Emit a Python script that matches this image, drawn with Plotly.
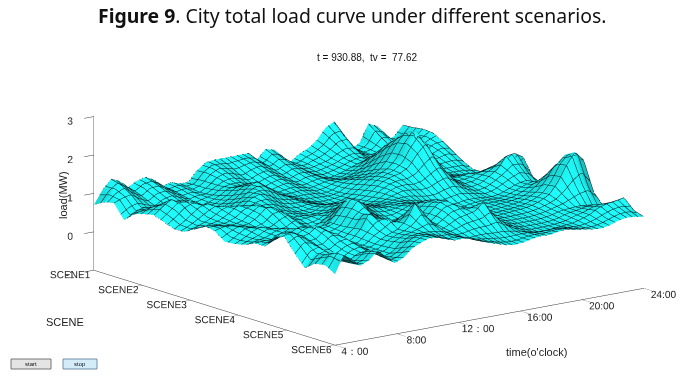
import plotly.graph_objects as go

scene_pos = [1 + 5 * i / 24 for i in range(25)]
time_pos = [4 + 20 * j / 36 for j in range(37)]
scene_ticks = [1, 2, 3, 4, 5, 6]
scene_labels = ["SCENE1", "SCENE2", "SCENE3", "SCENE4", "SCENE5", "SCENE6"]
time_ticks = [4, 8, 12, 16, 20, 24]
time_labels = ["4：00", "8:00", "12：00", "16:00", "20:00", "24:00"]
load_ticks = [-1, 0, 1, 2, 3]

load = [
[.70,1.05,1.29,1.20,1.00,1.12,1.18,1.07,.86,.92,.85,.84,1.10,1.27,1.30,1.30,1.30,1.31,1.31,1.09,1.33,1.28,.95,.90,1.05,1.15,1.32,1.60,1.72,1.20,.92,1.05,1.50,1.40,.95,1.05,1.30],
[.85,1.10,1.22,1.05,.92,1.08,1.10,.96,.84,.88,.82,.88,1.12,1.25,1.22,1.18,1.22,1.26,1.20,1.05,1.22,1.16,.94,.90,1.00,1.08,1.22,1.42,1.45,1.10,.95,1.02,1.30,1.25,.98,1.10,1.32],
[.91,1.00,1.05,.90,.80,.95,.98,.88,.78,.82,.78,.90,1.08,1.16,1.10,1.02,1.12,1.18,1.08,.98,1.10,1.06,.90,.88,.94,1.00,1.12,1.22,1.20,1.00,.94,.98,1.12,1.10,1.00,1.18,1.36],
[.55,.72,.80,.74,.70,.82,.88,.80,.72,.78,.80,.94,1.02,1.05,.98,.92,1.02,1.08,.98,.90,1.00,.98,.86,.84,.90,.96,1.05,1.10,1.05,.94,.92,.96,1.02,1.02,1.04,1.22,1.34],
[.78,.85,.88,.80,.72,.74,.78,.76,.70,.76,.86,1.00,1.02,.96,.90,.86,.94,1.00,.92,.84,.92,.94,.84,.80,.86,.94,1.02,1.08,1.02,.90,.86,.90,.96,1.00,1.05,1.18,1.20],
[.87,1.00,1.05,.95,.82,.72,.70,.72,.72,.80,.94,1.10,1.16,1.02,.88,.82,.88,.92,.86,.80,.86,.90,.86,.84,.92,1.02,1.20,1.35,1.20,.95,.84,.88,.92,.96,1.00,1.08,1.02],
[.92,1.10,1.25,1.12,.95,.78,.70,.74,.80,.90,1.05,1.22,1.30,1.12,.94,.84,.84,.86,.82,.78,.82,.90,.94,.96,1.05,1.20,1.45,1.65,1.40,1.02,.85,.84,.86,.88,.90,.92,.85],
[.82,1.00,1.20,1.25,1.10,.90,.80,.82,.90,1.02,1.18,1.28,1.22,1.08,.95,.85,.80,.80,.78,.76,.80,.92,1.02,1.06,1.18,1.40,1.70,1.90,1.55,1.10,.86,.80,.80,.80,.80,.78,.72],
[.72,.85,1.02,1.18,1.22,1.05,.92,.90,1.00,1.15,1.22,1.15,1.02,.95,.92,.84,.78,.74,.74,.76,.82,.96,1.10,1.18,1.30,1.55,1.90,2.15,1.70,1.15,.90,.84,.82,.76,.74,.72,.72],
[.73,.82,.92,1.05,1.20,1.22,1.08,1.00,1.05,1.12,1.10,1.00,.90,.88,.90,.86,.78,.72,.72,.78,.88,1.02,1.18,1.28,1.38,1.55,1.95,2.25,1.75,1.20,.95,.90,.90,.85,.82,.88,.92],
[.88,.90,.94,1.00,1.12,1.28,1.25,1.12,1.08,1.05,.98,.90,.85,.84,.90,.92,.85,.78,.76,.82,.92,1.08,1.22,1.30,1.35,1.48,1.78,2.00,1.60,1.15,.98,.98,1.02,1.00,1.05,1.05,.94],
[1.05,1.02,.98,.98,1.05,1.22,1.35,1.22,1.05,.96,.90,.88,.84,.86,.96,1.02,.96,.88,.82,.86,.96,1.10,1.20,1.24,1.22,1.28,1.45,1.60,1.35,1.05,.96,.98,1.08,1.15,1.25,1.20,.92],
[1.00,1.06,1.05,1.00,1.02,1.15,1.35,1.32,1.10,.95,.88,.90,.92,.95,1.08,1.15,1.08,.98,.92,.94,1.00,1.08,1.14,1.12,1.08,1.10,1.20,1.28,1.15,.98,.92,.96,1.10,1.25,1.55,1.58,1.44],
[.80,.95,1.10,1.05,.98,1.02,1.20,1.28,1.00,.86,.80,.84,.98,1.12,1.20,1.25,1.16,1.05,1.00,1.02,1.05,1.05,1.02,.96,.92,.92,.98,1.02,.98,.90,.86,.92,1.04,1.18,1.30,1.25,.98],
[.82,.92,1.05,1.15,1.05,.98,1.02,1.15,.96,.84,.84,1.02,1.28,1.30,1.28,1.22,1.12,1.06,1.05,1.08,1.08,1.02,.94,.86,.82,.80,.82,.86,.86,.84,.82,.86,.95,1.04,1.08,1.00,.92],
[.88,.95,1.00,1.12,1.15,1.02,.95,1.00,1.02,1.00,1.05,1.30,1.60,1.52,1.25,1.10,1.02,1.02,1.08,1.15,1.15,1.02,.90,.80,.76,.76,.78,.82,.84,.84,.84,.88,.96,1.05,1.12,1.05,.97],
[1.00,1.02,1.02,1.10,1.22,1.15,1.00,.92,.92,.96,1.05,1.35,1.62,1.45,1.18,1.00,.94,.98,1.10,1.25,1.30,1.12,.92,.80,.78,.80,.80,.82,.84,.86,.88,.92,1.02,1.18,1.40,1.35,1.05],
[1.00,1.10,1.18,1.15,1.30,1.32,1.10,.92,.86,.92,1.08,1.35,1.45,1.22,1.08,.98,.92,.98,1.15,1.35,1.40,1.22,1.00,.84,.80,.82,.80,.82,.84,.86,.90,.98,1.10,1.35,1.75,1.95,1.80],
[1.35,1.42,1.38,1.20,1.25,1.42,1.22,.96,.84,.90,1.12,1.50,1.30,1.10,1.18,1.22,1.00,1.00,1.20,1.42,1.45,1.30,1.12,.92,.84,.84,.82,.84,.86,.88,.92,1.00,1.12,1.40,1.80,2.10,1.85],
[1.40,1.48,1.35,1.12,1.12,1.32,1.25,1.00,.84,.88,1.08,1.22,1.40,1.25,1.45,1.40,1.12,1.02,1.18,1.35,1.40,1.30,1.30,1.02,.88,.84,.82,.82,.82,.84,.88,.94,1.02,1.15,1.30,1.38,1.10],
[1.05,1.30,1.25,1.02,1.00,1.15,1.20,1.02,.86,.88,1.02,1.12,1.20,1.40,1.80,1.50,1.10,.98,1.08,1.20,1.25,1.30,1.50,1.15,.90,.82,.78,.78,.78,.80,.84,.90,.92,.94,.92,.88,.80],
[.76,1.05,1.18,.98,.92,1.05,1.12,1.00,.86,.88,1.05,1.15,1.22,1.32,1.45,1.32,1.08,.96,.98,1.05,1.08,1.10,1.18,1.02,.86,.78,.74,.74,.74,.76,.80,.88,.92,.98,1.02,1.00,1.00],
[.96,1.15,1.10,.90,.88,1.02,1.05,.92,.82,.90,1.10,1.22,1.25,1.25,1.22,1.18,1.05,.94,.90,.92,.92,.90,.90,.86,.82,.76,.72,.72,.74,.76,.78,.84,.92,1.05,1.12,1.15,1.20],
[1.00,1.30,1.18,.92,.96,1.18,1.08,.88,.88,1.02,1.22,1.32,1.30,1.22,1.15,1.15,1.08,.98,.92,.86,.82,.78,.78,.82,.84,.82,.84,.86,.82,.78,.76,.78,.84,.92,1.00,1.02,.95],
[.85,1.30,1.15,.95,1.05,1.26,1.05,.85,.95,1.15,1.25,1.33,1.30,1.22,1.15,1.16,1.10,1.00,.92,.85,.78,.75,.77,.82,.85,.84,.88,.90,.85,.82,.78,.76,.80,.88,.92,.90,.86],
]

W, H = 689, 384
def px(x): return x / W
def py(y): return 1 - y / H

def contour(step):
    return dict(show=True, color="#03181c", width=1, size=step, highlight=False)

load_by_time = [list(col) for col in zip(*load)]

fig = go.Figure(go.Surface(
    x=scene_pos, y=time_pos, z=load_by_time,
    colorscale=[[0, "#1ffafa"], [1, "#1ffafa"]], showscale=False, hoverinfo="skip",
    lighting=dict(ambient=0.42, diffuse=0.62, specular=0.0, roughness=1.0, fresnel=0.0),
    lightposition=dict(x=-3000, y=1200, z=-500),
    contours=dict(
        x=dict(start=1, end=6, **contour(5 / 36)),
        y=dict(start=4, end=24, **contour(20 / 54)),
    ),
))

def axis(vals, text, rng, ticklen):
    return dict(
        title=dict(text=""), tickmode="array", tickvals=vals, ticktext=text, range=rng,
        showgrid=False, zeroline=False, showbackground=False, showspikes=False,
        showline=True, linecolor="#333333", linewidth=1, tickangle=0,
        ticks="outside", ticklen=ticklen, tickcolor="#333333",
        tickfont=dict(family="Liberation Sans", size=11, color="#222222"),
    )

def note(x, y, text, family, size, angle=0, color="#222222"):
    return dict(x=px(x), y=py(y), xref="paper", yref="paper", showarrow=False,
                xanchor="center", yanchor="middle", text=text, textangle=angle,
                font=dict(family=family, size=size, color=color))

d = 1.7
cx, cy, cz = -0.0878, -0.0927, 0.0528
fig.update_layout(
    width=W, height=H, margin=dict(l=0, r=0, t=0, b=0), paper_bgcolor="white",
    showlegend=False,
    scene=dict(
        domain=dict(x=[0, 1], y=[0, 1]),
        xaxis=axis(scene_ticks, scene_labels, [1, 6], 14),
        yaxis=axis(time_ticks, time_labels, [4, 24], 12),
        zaxis=axis(load_ticks, [str(v) for v in load_ticks], [-1, 3], 2),
        aspectmode="manual", aspectratio=dict(x=2.06, y=2.03, z=0.824),
        camera=dict(
            projection=dict(type="orthographic"),
            eye=dict(x=0.769 * d + cx, y=-0.592 * d + cy, z=0.239 * d + cz),
            center=dict(x=cx, y=cy, z=cz), up=dict(x=0, y=0, z=1),
        ),
    ),
    annotations=[
        note(352, 15, "<b>Figure 9</b>. City total load curve under different scenarios.", "Noto Sans", 19.4, color="#111111"),
        note(367, 57, "t = 930.88,  tv =  77.62", "Liberation Sans", 10, color="#111111"),
        note(63, 195, "load(MW)", "Liberation Sans", 11, angle=-90),
        note(65, 322, "SCENE", "Liberation Sans", 11),
        note(536, 352, "time(o'clock)", "Liberation Sans", 11),
        note(31, 364, "start", "Liberation Sans", 6, color="#111111"),
        note(80, 364, "stop", "Liberation Sans", 6, color="#111111"),
    ],
    shapes=[
        dict(type="rect", xref="paper", yref="paper", x0=px(11), x1=px(51), y0=py(369), y1=py(359),
             fillcolor="#e4e4e4", line=dict(color="#777777", width=1)),
        dict(type="rect", xref="paper", yref="paper", x0=px(63), x1=px(97), y0=py(369), y1=py(359),
             fillcolor="#d4ecf8", line=dict(color="#6f8fa8", width=1)),
    ],
)
fig.write_html("out.html", post_script="document.body.style.margin='0';",
               config={"displayModeBar": False})
